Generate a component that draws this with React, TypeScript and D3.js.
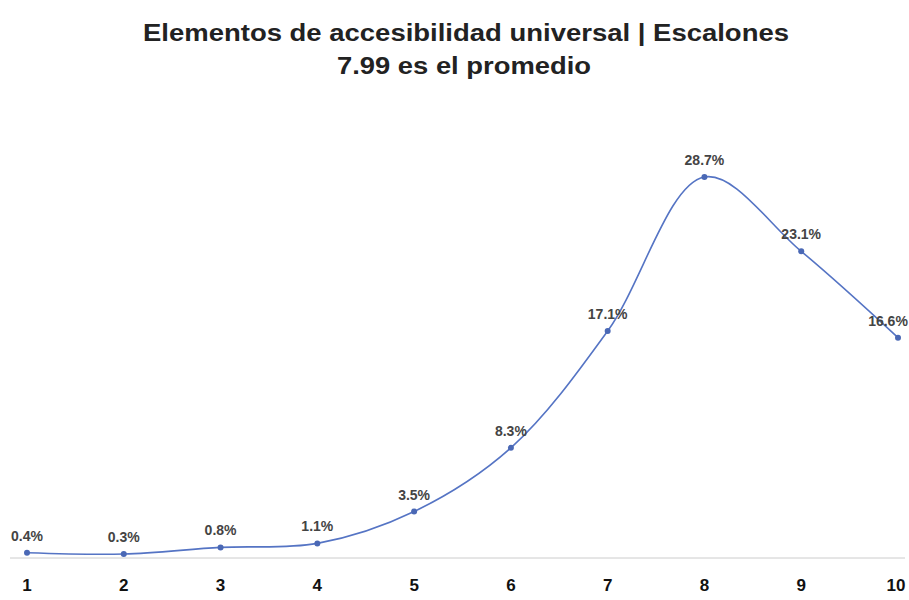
import React from 'react';
import * as d3 from 'd3';

const escalones = [1, 2, 3, 4, 5, 6, 7, 8, 9, 10];
const porcentajes = [0.4, 0.3, 0.8, 1.1, 3.5, 8.3, 17.1, 28.7, 23.1, 16.6];
const titulo = 'Elementos de accesibilidad universal | Escalones';
const subtitulo = '7.99 es el promedio';

const W = 909;
const H = 600;

const App: React.FC = () => {
  // escalas
  const x = d3.scaleLinear().domain([1, 10]).range([27, 898]);
  const y = d3.scaleLinear().domain([0, 28.7]).range([558, 177]);

  const datos = escalones.map((e, i) => ({ e, v: porcentajes[i] }));

  const linea = d3.line<{ e: number; v: number }>()
    .x(d => x(d.e))
    .y(d => y(d.v))
    .curve(d3.curveCatmullRom.alpha(0.5));

  const font = '"Liberation Sans", Arial, sans-serif';

  return (
    <svg width={W} height={H} style={{ position: 'absolute', left: 0, top: 0, background: '#fff' }}>
      <text x={466} y={41} textAnchor="middle" fontFamily={font} fontWeight="bold" fontSize={23} fill="#222"
        textLength={646} lengthAdjust="spacingAndGlyphs">{titulo}</text>
      <text x={464} y={74} textAnchor="middle" fontFamily={font} fontWeight="bold" fontSize={23} fill="#222"
        textLength={254} lengthAdjust="spacingAndGlyphs">{subtitulo}</text>

      {/* línea base */}
      <line x1={10} x2={905} y1={y(0)} y2={y(0)} stroke="#cccccc" strokeWidth={1} />

      <path d={linea(datos) || ''} fill="none" stroke="#5574c4" strokeWidth={1.6} />

      {datos.map(d => (
        <g key={d.e}>
          <circle cx={x(d.e)} cy={y(d.v)} r={3} fill="#4a68b5" />
          <text x={x(d.e) - (d.e === 10 ? 10 : 0)} y={y(d.v) - 12} textAnchor="middle" fontFamily={font} fontWeight="bold" fontSize={14} fill="#444">
            {d.v.toFixed(1)}%
          </text>
        </g>
      ))}

      {escalones.map(e => (
        <text key={e} x={x(e) - (e === 10 ? 2 : 0)} y={591} textAnchor="middle" fontFamily={font} fontWeight="bold" fontSize={17} fill="#111">{e}</text>
      ))}
    </svg>
  );
};

export default App;
